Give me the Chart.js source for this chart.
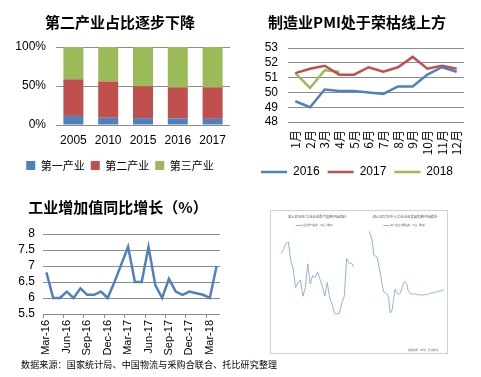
<!DOCTYPE html>
<html><head><meta charset="utf-8">
<script src="https://cdn.jsdelivr.net/npm/chart.js@4/dist/chart.umd.min.js"></script>
<style>
html,body{margin:0;padding:0;background:#fff;width:481px;height:377px;overflow:hidden;position:relative;font-family:'Liberation Sans','Noto Sans CJK SC',sans-serif;}
canvas{position:absolute;}
.t{position:absolute;white-space:nowrap;color:#000;}
#frame{position:absolute;left:270px;top:210px;width:178px;height:144px;box-sizing:border-box;border:1px solid #c3d3ea;}
.tiny{position:absolute;white-space:nowrap;color:#666;font-family:'Noto Sans CJK SC',sans-serif;transform:translateX(-50%);line-height:1;}
</style></head><body>
<canvas id="c1" width="240" height="185" style="left:0;top:0"></canvas>
<canvas id="c2" width="241" height="190" style="left:240px;top:0"></canvas>
<canvas id="c3" width="242" height="170" style="left:0;top:190px"></canvas>
<div id="frame"></div>
<canvas id="c4" width="92" height="141" style="left:271px;top:211px"></canvas>
<canvas id="c5" width="85" height="141" style="left:362px;top:211px"></canvas>
<div class="tiny" style="left:317px;top:215px;font-size:3.4px;color:#555">进入2016年工业企业景气指数开始回升</div>
<div class="tiny" style="left:315px;top:224px;font-size:2.4px"><span style="display:inline-block;width:7px;height:1px;background:#8eb4e3;vertical-align:middle"></span> 企业景气指数：工业（季度）</div>
<div class="tiny" style="left:405px;top:215px;font-size:3.4px;color:#555">进入2017年中小工业企业发展指数开始回升</div>
<div class="tiny" style="left:405px;top:224px;font-size:2.4px"><span style="display:inline-block;width:7px;height:1px;background:#8eb4e3;vertical-align:middle"></span> 中小企业发展指数：工业（季度）</div>
<div class="tiny" style="left:423px;top:349px;font-size:2.4px">数据来源：Wind，托比研究</div>
<div class="t" style="left:21px;top:359px;font-size:9px;letter-spacing:0.15px;font-family:'Noto Sans CJK SC',sans-serif;line-height:12px">数据来源：国家统计局、中国物流与采购合联合、托比研究整理</div>
<script>
// ---- data ----
const years = ['2005','2010','2015','2016','2017'];
const primaryShare = [11.6, 9.3, 8.8, 8.6, 7.9];
const secondaryShare = [47.0, 46.5, 40.9, 39.8, 40.5];
const tertiaryShare = [41.4, 44.2, 50.3, 51.6, 51.6];

const pmiMonths = ['1月','2月','3月','4月','5月','6月','7月','8月','9月','10月','11月','12月'];
const pmi2016 = [49.4, 49.0, 50.2, 50.1, 50.1, 50.0, 49.9, 50.4, 50.4, 51.2, 51.7, 51.4];
const pmi2017 = [51.3, 51.6, 51.8, 51.2, 51.2, 51.7, 51.4, 51.7, 52.4, 51.6, 51.8, 51.6];
const pmi2018 = [51.3, 50.3, 51.5, 51.4];

const ivaMonths = ['Mar-16','Apr-16','May-16','Jun-16','Jul-16','Aug-16','Sep-16','Oct-16','Nov-16','Dec-16',
  'Jan-17','Feb-17','Mar-17','Apr-17','May-17','Jun-17','Jul-17','Aug-17','Sep-17','Oct-17','Nov-17','Dec-17',
  'Jan-18','Feb-18','Mar-18','Apr-18'];
const ivaGrowth = [6.8, 6.0, 6.0, 6.2, 6.0, 6.3, 6.1, 6.1, 6.2, 6.0,
  6.5, 7.05, 7.6, 6.5, 6.5, 7.6, 6.4, 6.0, 6.6, 6.2, 6.1, 6.2,
  6.15, 6.1, 6.0, 7.0];

const insetQuarters = ['2010-06','2010-09','2010-12','2011-03','2011-06','2011-09','2011-12','2012-03','2012-06','2012-09','2012-12',
  '2013-03','2013-06','2013-09','2013-12','2014-03','2014-06','2014-09','2014-12','2015-03','2015-06','2015-09','2015-12',
  '2016-03','2016-06','2016-09','2016-12','2017-03','2017-06','2017-09','2017-12'];
const climateIndex = [130.7,132.2,134.4,135.0,128.2,125.1,118.3,120.2,121.1,115.2,118.3,127.0,119.6,122.7,122.0,123.9,
  121.4,118.9,115.2,120.2,114.6,112.4,109.0,108.7,108.9,112.8,115.2,128.9,127.2,127.2,125.8];
const insetMonths = ['2010-06','2010-08','2010-10','2010-12','2011-02','2011-04','2011-06','2011-08','2011-10','2011-12',
  '2012-02','2012-04','2012-06','2012-08','2012-10','2012-12','2013-02','2013-04','2013-06','2013-08','2013-10','2013-12',
  '2014-02','2014-04','2014-06','2014-08','2014-10','2014-12','2015-02','2015-04','2015-06','2015-08','2015-10','2015-12',
  '2016-02','2016-04','2016-06','2016-08','2016-10','2016-12','2017-02','2017-04','2017-06','2017-08','2017-10','2017-12','2018-02'];
const smeIndex = [109.1,108.1,106.3,102.6,102.3,102.1,99.8,97.5,94.7,92.6,92.3,92.1,91.0,86.8,87.4,90.0,93.3,92.3,91.9,92.1,
  93.3,94.7,95.4,94.9,93.0,92.3,92.1,91.9,92.1,91.9,91.7,91.9,91.7,91.7,91.8,91.9,91.9,92.1,92.3,92.3,92.4,92.6,92.6,92.8,92.8,93.0,93.1];

// ---- styles ----
const FONT = "'Liberation Sans','Noto Sans CJK SC',sans-serif";
const CJK = "'Noto Sans CJK SC',sans-serif";
const BLUE = '#4f81bd', RED = '#c0504d', GREEN = '#9bbb59', GRID = '#8c8c8c';
Chart.defaults.font.family = FONT;
Chart.defaults.color = '#000';
Chart.defaults.animation = false;
Chart.defaults.responsive = false;
Chart.defaults.plugins.tooltip.enabled = false;

function fixW(w){ return function(s){ s.width = w; }; }
function fixH(h){ return function(s){ s.height = h; }; }

// Chart 1: stacked share
new Chart(document.getElementById('c1'), {
  type: 'bar',
  data: { labels: years, datasets: [
    { label: '第一产业', data: primaryShare, backgroundColor: BLUE },
    { label: '第二产业', data: secondaryShare, backgroundColor: RED },
    { label: '第三产业', data: tertiaryShare, backgroundColor: GREEN }
  ]},
  options: {
    layout: { padding: { left: 10, right: 10, top: 13, bottom: 4 } },
    datasets: { bar: { barPercentage: 0.575, categoryPercentage: 1 } },
    plugins: {
      title: { display: true, text: '第二产业占比逐步下降', font: { size: 15, weight: 'bold', family: CJK }, color: '#000', padding: { top: 0, bottom: 16 } },
      legend: { position: 'bottom', labels: { boxWidth: 9, boxHeight: 9, padding: 6, font: { size: 11, family: CJK }, color: '#000' } }
    },
    scales: {
      x: { stacked: true, grid: { display: false, drawTicks: false }, border: { display: false }, afterFit: fixH(29), ticks: { font: { size: 12 }, padding: 8 } },
      y: { stacked: true, min: 0, max: 100, afterFit: fixW(46),
           ticks: { autoSkip: false, stepSize: 50, font: { size: 12 }, padding: 10, callback: v => v + '%' },
           grid: { color: GRID, drawTicks: false }, border: { display: false } }
    }
  }
});

// Chart 2: PMI
function lineDs(label, data, color){ return { label, data, borderColor: color, backgroundColor: color, borderWidth: 2.5, pointRadius: 0, tension: 0 }; }
new Chart(document.getElementById('c2'), {
  type: 'line',
  data: { labels: pmiMonths, datasets: [ lineDs('2016', pmi2016, BLUE), lineDs('2017', pmi2017, RED), lineDs('2018', pmi2018, GREEN) ] },
  options: {
    layout: { padding: { left: 10, right: 17, top: 13, bottom: 2 } },
    plugins: {
      title: { display: true, text: '制造业PMI处于荣枯线上方', font: { size: 15, weight: 'bold', family: CJK }, color: '#000', padding: { top: 0, bottom: 17 } },
      legend: { position: 'bottom', labels: { usePointStyle: true, pointStyle: 'line', pointStyleWidth: 26, boxWidth: 26, boxHeight: 12, padding: 8, font: { size: 12 }, color: '#000' } }
    },
    scales: {
      x: { offset: true, afterFit: fixH(36), grid: { display: false, drawTicks: false }, border: { display: false },
           ticks: { minRotation: 90, maxRotation: 90, autoSkip: false, font: { size: 12, family: CJK }, padding: 8 } },
      y: { min: 48, max: 53, afterFit: fixW(38), ticks: { autoSkip: false, stepSize: 1, font: { size: 12 }, padding: 10 },
           grid: { color: GRID, drawTicks: false }, border: { display: false } }
    }
  }
});

// Chart 3: industrial value added
new Chart(document.getElementById('c3'), {
  type: 'line',
  data: { labels: ivaMonths, datasets: [ { label: '工业增加值同比增长', data: ivaGrowth, borderColor: BLUE, borderWidth: 2.5, pointRadius: 0, tension: 0 } ] },
  options: {
    layout: { padding: { left: 16, right: 22, top: 8, bottom: 0 } },
    plugins: {
      title: { display: true, text: '工业增加值同比增长（%）', font: { size: 15, weight: 'bold', family: CJK }, color: '#000', padding: { top: 0, bottom: 18 } },
      legend: { display: false }
    },
    scales: {
      x: { offset: true, afterFit: fixH(46), border: { display: false },
           grid: { offset: true, drawOnChartArea: false, tickLength: 4, color: c => (c.index % 3 === 0 ? GRID : 'rgba(0,0,0,0)') },
           ticks: { minRotation: 90, maxRotation: 90, autoSkip: false, font: { size: 11 }, padding: 2,
                    callback: function(v, i){ return i % 3 === 0 ? this.getLabelForValue(v) : ''; } } },
      y: { min: 5.5, max: 8, afterFit: fixW(27), ticks: { autoSkip: false, stepSize: 0.5, font: { size: 12 }, padding: 8, callback: v => String(v) },
           grid: { color: GRID, drawTicks: false }, border: { display: false } }
    }
  }
});

// Inset charts
function insetOpts(pad, yw, min, max, step){
  return {
    layout: { padding: pad },
    plugins: { legend: { display: false }, title: { display: false } },
    scales: {
      x: { afterFit: fixH(6), grid: { display: false }, border: { display: false },
           ticks: { maxRotation: 0, autoSkip: true, maxTicksLimit: 6, font: { size: 3 }, color: '#999', padding: 1 } },
      y: { min, max, afterFit: fixW(yw), grid: { display: false }, border: { display: false },
           ticks: { autoSkip: false, stepSize: step, font: { size: 3 }, color: '#999', padding: 1, callback: v => v.toFixed(2) } }
    }
  };
}
new Chart(document.getElementById('c4'), {
  type: 'line',
  data: { labels: insetQuarters, datasets: [ { label: '企业景气指数：工业（季度）', data: climateIndex, borderColor: '#8eb4e3', borderWidth: 1, pointRadius: 0, tension: 0 } ] },
  options: insetOpts({ left: 1, right: 9, top: 17, bottom: 8 }, 9, 100, 140, 10)
});
new Chart(document.getElementById('c5'), {
  type: 'line',
  data: { labels: insetMonths, datasets: [ { label: '中小企业发展指数：工业（季度）', data: smeIndex, borderColor: '#8eb4e3', borderWidth: 1, pointRadius: 0, tension: 0 } ] },
  options: insetOpts({ left: 1, right: 3, top: 17, bottom: 8 }, 6, 80, 110, 10)
});
</script>
</body></html>
